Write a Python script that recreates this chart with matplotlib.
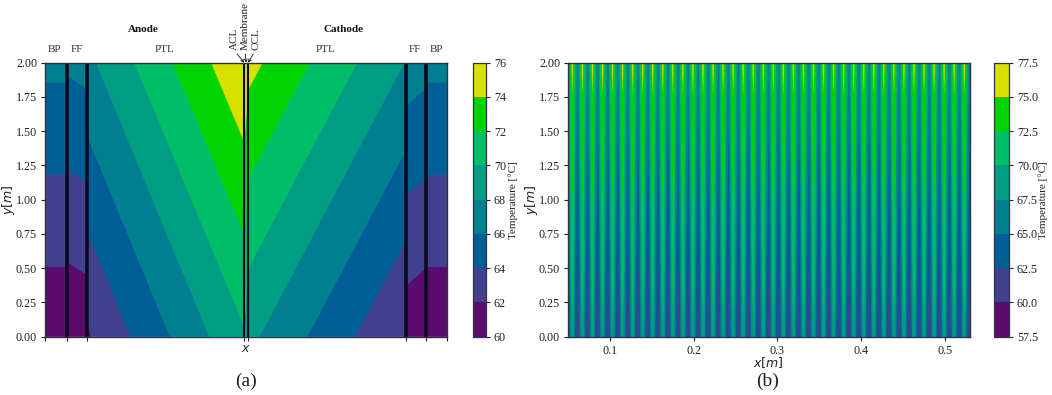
import numpy as np
import matplotlib
matplotlib.use('Agg')
import matplotlib.pyplot as plt
from matplotlib.colors import ListedColormap, BoundaryNorm

plt.rcParams['font.family'] = ['Liberation Serif', 'DejaVu Sans']
plt.rcParams['mathtext.fontset'] = 'dejavusans'

W, H = 1052, 395

# layer positions across one cell (arbitrary length units, no scale on the axis)
x_nodes = [0, 19.5, 22.5, 41.5, 41.6, 199, 203, 361, 361.1, 378.7, 382.7, 402]
t_bottom = [60.47, 60.47, 60.40, 60.65, 61.74, 69.76, 68.46, 61.85, 60.85, 60.50, 60.47, 60.47]
t_top = [66.42, 66.42, 66.27, 66.55, 67.50, 75.70, 74.60, 67.90, 66.95, 66.60, 66.42, 66.42]
y_nodes = [0, 2]

layer_ticks = [0, 21.5, 41.5, 199, 203, 361, 380.7, 402]
layer_lines = [(21.5, 2.6), (41.5, 2.6), (199, 1.5), (203, 1.5), (361, 2.6), (380.7, 2.6)]

# one channel of panel (b), position as fraction of the channel width
channel_frac = [0, 0.12, 0.33, 0.43, 0.53, 0.74, 1.0]
channel_bottom = [60.4, 63.5, 68.8, 69.7, 68.8, 63.5, 60.4]
channel_top = [66.4, 69.5, 74.8, 75.7, 74.8, 69.5, 66.4]

levels_a = [60, 62, 64, 66, 68, 70, 72, 74, 76]
levels_b = [57.5, 60, 62.5, 65, 67.5, 70, 72.5, 75, 77.5]
band_colors = ['#5b0a6e', '#42408f', '#005f96', '#007f90', '#009c84',
               '#00bd68', '#00d400', '#d8e000']
y_ticks = [0, 0.25, 0.5, 0.75, 1, 1.25, 1.5, 1.75, 2]
x_ticks_b = [0.1, 0.2, 0.3, 0.4, 0.5]

n_channels = 40
channel_width = 0.012
x_start = 0.05

cmap = ListedColormap(band_colors)


def px_axes(fig, x0, y0, x1, y1):
    return fig.add_axes([x0 / W, 1 - y1 / H, (x1 - x0) / W, (y1 - y0) / H])


def ftext(fig, x, y, s, **kw):
    kw.setdefault('ha', 'center')
    kw.setdefault('va', 'center')
    kw.setdefault('fontsize', 8)
    fig.text(x / W, 1 - y / H, s, **kw)


def style(ax):
    ax.set_yticks(y_ticks)
    ax.set_yticklabels(['%.2f' % v for v in y_ticks])
    ax.tick_params(length=3, width=0.8, labelsize=8.7, pad=2.7, color='#222222', labelcolor='#222222')
    for s in ax.spines.values():
        s.set_linewidth(1.0)
        s.set_color('#333340')


def add_cbar(fig, cs, cax, ticks, fmt):
    cb = fig.colorbar(cs, cax=cax, ticks=ticks)
    cb.ax.set_yticklabels([fmt % v for v in ticks])
    cb.ax.tick_params(length=3, width=0.8, labelsize=8.7, pad=2.7, color='#222222', labelcolor='#222222')
    cb.outline.set_linewidth(0.9)
    cb.outline.set_edgecolor('#333340')
    return cb


fig = plt.figure(figsize=(W / 100, H / 100), dpi=100)

# panel (a): single cell
ax1 = px_axes(fig, 45, 62.7, 447.3, 336.7)
Z = np.array([t_bottom, t_top])
cs1 = ax1.contourf(x_nodes, y_nodes, Z, levels=levels_a, cmap=cmap, antialiased=True)
cs1.set_edgecolor('face')  # closes the thin seams between bands
cs1.set_linewidth(0.5)
for xv, lw in layer_lines:
    ax1.axvline(xv, color='#0a0a1e', lw=lw)
ax1.set_xlim(0, 402)
ax1.set_ylim(0, 2)
style(ax1)
ax1.set_xticks(layer_ticks)
ax1.set_xticklabels([])
ax1.set_ylabel('$y[m]$', fontsize=9, color='#222222')
ax1.yaxis.set_label_coords(-0.07, 0.5)

cax1 = px_axes(fig, 472.7, 62.7, 486, 336.7)
add_cbar(fig, cs1, cax1, levels_a, '%d')
ftext(fig, 512.7, 200, 'Temperature [°C]', rotation=90, color='#222222')

ftext(fig, 246, 349, '$x$', fontsize=9, color='#222222')
ftext(fig, 246, 381, '(a)', fontsize=14, color='#222222')

ftext(fig, 143, 29, 'Anode', fontweight='bold', color='#111111')
ftext(fig, 343, 29, 'Cathode', fontweight='bold', color='#111111')
for xp, lab in [(55, 'BP'), (77, 'FF'), (165, 'PTL'), (326, 'PTL'), (414.5, 'FF'), (437, 'BP')]:
    ftext(fig, xp, 50, lab, color='#333333')

# labels for the thin catalyst layers, with small arrows down to the axes
for lab, xtxt, xtip in [('ACL', 234, 199), ('Membrane', 245, 201), ('CCL', 255.6, 203)]:
    ax1.annotate(lab, xy=(xtip, 2), xycoords='data',
                 xytext=(xtxt / W, 1 - 50 / H), textcoords='figure fraction',
                 rotation=90, ha='center', va='bottom', fontsize=8, color='#222222',
                 arrowprops=dict(arrowstyle='->', lw=0.6, color='#111111', shrinkA=1, shrinkB=0,
                                 mutation_scale=5, relpos=(0.5, 0)))

# panel (b): the stack of channels along x
x_b = []
bot_b = []
top_b = []
for i in range(n_channels):
    for frac, tb, tt in zip(channel_frac, channel_bottom, channel_top):
        if i > 0 and frac == 0:
            continue  # shared edge with previous channel
        x_b.append(x_start + channel_width * (i + frac))
        bot_b.append(tb)
        top_b.append(tt)

# stripes are ~10 px wide, contourf polygons alias badly there, so sample finely and let imshow smooth it
x_end = x_start + n_channels * channel_width
x_fine = np.linspace(x_start, x_end, 3200)
y_frac = np.linspace(0, 1, 600)[:, None]
bot_fine = np.interp(x_fine, x_b, bot_b)
top_fine = np.interp(x_fine, x_b, top_b)
Z_b = bot_fine + (top_fine - bot_fine) * y_frac

ax2 = px_axes(fig, 568, 62.7, 969.7, 336.7)
norm_b = BoundaryNorm(levels_b, cmap.N)
im2 = ax2.imshow(Z_b, origin='lower', extent=[x_start, x_end, 0, 2], aspect='auto', cmap=cmap,
                 norm=norm_b, interpolation='hanning', interpolation_stage='rgba')
ax2.set_xlim(x_start, x_end)
ax2.set_ylim(0, 2)
style(ax2)
ax2.set_xticks(x_ticks_b)
ax2.set_xticklabels(['%.1f' % v for v in x_ticks_b])
ax2.set_ylabel('$y[m]$', fontsize=9, color='#222222')
ax2.yaxis.set_label_coords(-0.07, 0.5)

cax2 = px_axes(fig, 994.3, 62.7, 1009, 336.7)
add_cbar(fig, im2, cax2, levels_b, '%.1f')
ftext(fig, 1042.7, 200, 'Temperature [°C]', rotation=90, color='#222222')

ftext(fig, 768, 363, '$x[m]$', fontsize=9, color='#222222')
ftext(fig, 768, 381, '(b)', fontsize=14, color='#222222')

fig.savefig('out.png', dpi=100)
